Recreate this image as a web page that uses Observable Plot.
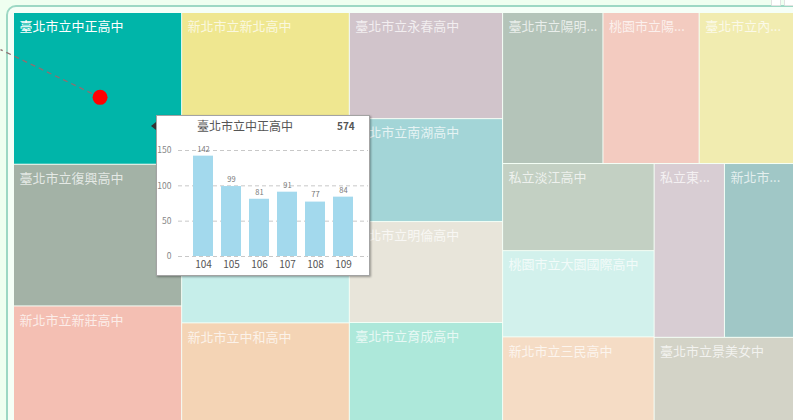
<!DOCTYPE html>
<html><head><meta charset="utf-8">
<script src="https://cdn.jsdelivr.net/npm/d3@7"></script>
<script src="https://cdn.jsdelivr.net/npm/@observablehq/plot@0.6"></script>
<style>
html,body{margin:0;padding:0;background:#effff0;width:793px;height:420px;overflow:hidden;font-family:"Noto Sans CJK TC","Noto Sans",sans-serif;}
#frame{position:absolute;left:6px;top:5px;width:830px;height:450px;border:2px solid #9dd8c4;border-radius:10px;background:#f5fff7;box-sizing:border-box;}
#chart{position:absolute;left:0;top:0;}
#tip{position:absolute;left:156px;top:115px;width:214px;height:161px;background:#fff;border:1px solid #a3a3a3;box-sizing:border-box;box-shadow:1px 1px 2px rgba(0,0,0,.35);}
#tip .arrow{position:absolute;left:-6px;top:6px;width:0;height:0;border-top:4px solid transparent;border-bottom:4px solid transparent;border-right:5px solid #333;}
#tip .head{position:absolute;left:0;top:1px;width:212px;height:18px;}
#tip .title{position:absolute;left:0;width:176px;top:0;text-align:center;font-size:12px;color:#555;line-height:18px;}
#tip .total{position:absolute;left:180px;top:0;font-size:10px;font-weight:bold;color:#555;line-height:18px;}
#tip .plot{position:absolute;left:0;top:19px;}
.icon{position:absolute;top:-3px;width:8px;height:7px;background:#fff;border:1px solid #e2e2e2;border-radius:1px;}
</style></head><body>
<div id="frame"></div>
<div class="icon" style="left:771px"></div>
<div class="icon" style="left:784px"></div>
<div id="chart"></div>
<div id="tip"><div class="arrow"></div><div class="head"><div class="title"></div><div class="total"></div></div><div class="plot"></div></div>
<script>
// ---- data ----
const schools = ["臺北市立中正高中","臺北市立復興高中","新北市立新莊高中","新北市立新北高中","臺北市立大同高中","新北市立板橋高中","新北市立中和高中","臺北市立永春高中","臺北市立南湖高中","臺北市立明倫高中","臺北市立育成高中","臺北市立陽明高中","桃園市立陽明高中","臺北市立內湖高中","私立淡江高中","桃園市立大園國際高中","新北市立三民高中","私立東山高中","新北市立清水高中","臺北市立景美女中"];
const students = [574,536,441,407,384,380,376,366,355,348,345,341,327,324,297,294,292,275,274,269];
const colors = ["#00b5a9","#a3b2a6","#f4bfb3","#efe790","#b9c7bb","#c6eeea","#f4d4b5","#d1c4cb","#a3d5d7","#e8e5da","#ade8da","#b4c4b9","#f3cbc0","#f1ecb0","#c3d0c3","#d2f1ec","#f5dcc5","#d8cdd3","#a0c7c6","#d3d3c7"];
const selected = "臺北市立中正高中";
const years = ["104","105","106","107","108","109"];
const admitted = [142,99,81,91,77,84];

const FONT = '"Noto Sans CJK TC","Noto Sans",sans-serif';
const W = 780, H = 409;

const root = d3.hierarchy({children: schools.map((s,i)=>({name:s, value:students[i], color:colors[i]}))})
  .sum(d => d.value || 0)
  .sort((a,b) => b.value - a.value);
d3.treemap().tile(d3.treemapSquarify).size([W, H]).paddingInner(1)(root);
const leaves = root.leaves();

const ctx = document.createElement("canvas").getContext("2d");
ctx.font = '13px ' + FONT;
function fit(name, w) {
  if (ctx.measureText(name).width <= w) return name;
  for (let i = name.length - 1; i > 0; i--) {
    const s = name.slice(0, i) + "...";
    if (ctx.measureText(s).width <= w) return s;
  }
  return "";
}
// tooltip box in page pixels (labels fully hidden under it are not drawn)
const tipEl = document.getElementById("tip");
const tipBox = {l: tipEl.offsetLeft, t: tipEl.offsetTop, r: tipEl.offsetLeft + tipEl.offsetWidth, b: tipEl.offsetTop + tipEl.offsetHeight};
leaves.forEach(d => {
  d.label = fit(d.data.name, d.x1 - d.x0 - 8);
  const lx = d.x0 + 14 + 5, ly = d.y0 + 13 + 13.5, lw = ctx.measureText(d.label).width;
  if (lx >= tipBox.l && lx + lw <= tipBox.r && ly - 7 >= tipBox.t && ly + 7 <= tipBox.b) d.label = "";
});

const sel = leaves.find(d => d.data.name === selected);
const cx = (sel.x0 + sel.x1) / 2 + 2, cy = (sel.y0 + sel.y1) / 2 + 8.5;
const pointer = [{x1: cx, y1: cy, x2: -14, y2: cy - 0.48 * (cx + 14)}];

const chart = Plot.plot({
  width: 793, height: 420, margin: 0,
  x: {domain: [-14, 779], range: [0, 793], axis: null},
  y: {domain: [-13, 407], range: [0, 420], axis: null},
  color: {type: "identity"},
  style: {fontFamily: FONT, background: "transparent", overflow: "visible"},
  marks: [
    Plot.rect(leaves, {x1: d => d.x0, x2: d => d.x1, y1: d => d.y0, y2: d => d.y1, fill: d => d.data.color}),
    Plot.text(leaves.filter(d => d.label), {x: d => d.x0, y: d => d.y0, text: d => d.label, dx: 5, dy: 13.5,
      textAnchor: "start", lineAnchor: "middle", fontSize: 13, fill: "#ffffff",
      fillOpacity: d => d.data.name === selected ? 1 : 0.72}),
    Plot.link(pointer, {x1: "x1", y1: "y1", x2: "x2", y2: "y2", stroke: "#8f6f70", strokeWidth: 1.3, strokeDasharray: "5,4"}),
    Plot.dot(pointer, {x: "x1", y: "y1", r: 7.5, fill: "#ff0000"})
  ]
});
document.getElementById("chart").append(chart);

// ---- tooltip ----
const tipData = years.map((y,i) => ({year: y, n: admitted[i]}));
tipEl.querySelector(".title").textContent = selected;
tipEl.querySelector(".total").textContent = d3.sum(admitted);
const bars = Plot.plot({
  width: 212, height: 140, marginLeft: 21, marginRight: 1, marginTop: 15, marginBottom: 19,
  x: {domain: years, paddingInner: 0.27, paddingOuter: 0.45, axis: null},
  y: {domain: [0, 150], axis: null},
  style: {fontFamily: FONT, background: "transparent", overflow: "visible"},
  marks: [
    Plot.gridY([0, 50, 100, 150], {stroke: "#c8c8c8", strokeOpacity: 1, strokeDasharray: "4,3"}),
    Plot.barY(tipData, {x: "year", y: "n", fill: "#a3d9ed"}),
    Plot.text(tipData, {x: "year", y: "n", text: d => String(d.n), dy: -7, fontSize: 7.5, fill: "#777"}),
    Plot.axisX({tickSize: 0, tickPadding: 4, fontSize: 10, fill: "#555", label: null}),
    Plot.axisY({ticks: [0, 50, 100, 150], tickSize: 0, tickPadding: 7, fontSize: 8.5, fill: "#888", label: null})
  ]
});
tipEl.querySelector(".plot").append(bars);
</script>
</body></html>
